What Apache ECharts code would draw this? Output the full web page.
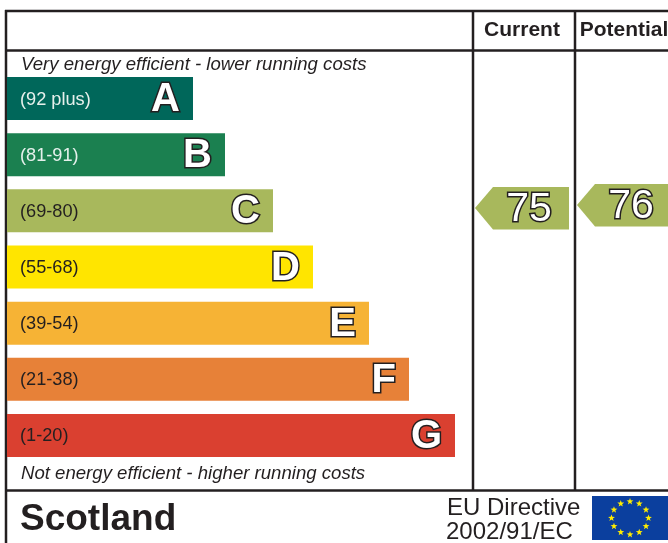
<!DOCTYPE html>
<html>
<head>
<meta charset="utf-8">
<style>html,body{margin:0;padding:0;background:#fff}#c{width:668px;height:543px}</style>
<script src="https://cdn.jsdelivr.net/npm/echarts@6/dist/echarts.min.js"></script>
</head>
<body>
<div id="c"></div>
<script>
const bands = ['A','B','C','D','E','F','G'];
const ranges = ['(92 plus)','(81-91)','(69-80)','(55-68)','(39-54)','(21-38)','(1-20)'];
const barLengths = [186,218,266,306,362,402,448];
const barColors = ['#00675a','#1b8050','#a8b85c','#ffe500','#f6b335','#e78138','#da4030'];
const rangeColors = ['#e6f0ec','#e6f0ec','#231f20','#231f20','#231f20','#231f20','#231f20'];
const columns = ['Current','Potential'];
const ratings = [75,76];
const arrowColor = '#a8b85c';
const ink = '#231f20';
const font = '"Liberation Sans", Arial, sans-serif';

function hline(y,x1,x2,w){return {type:'line',shape:{x1,y1:y,x2,y2:y},style:{stroke:ink,lineWidth:w}};}
function vline(x,y1,y2,w){return {type:'line',shape:{x1:x,y1,x2:x,y2},style:{stroke:ink,lineWidth:w}};}
function txt(x,y,text,size,extra){return {type:'text',x,y,style:Object.assign({text,fontFamily:font,fontSize:size,fill:ink,verticalAlign:'middle'},extra||{})};}
function star(cx,cy,r){const p=[];for(let i=0;i<10;i++){const a=-Math.PI/2+i*Math.PI/5,q=i%2?r*0.4:r;p.push([cx+q*Math.cos(a),cy+q*Math.sin(a)]);}
  return {type:'polygon',shape:{points:p},style:{fill:'#ffed00'}};}
const stars=[];for(let i=0;i<12;i++){const a=i*Math.PI/6;stars.push(star(630+18.5*Math.sin(a),518-16.5*Math.cos(a),3.6));}

const chart = echarts.init(document.getElementById('c'),null,{renderer:'canvas'});
chart.setOption({
  animation:false,
  grid:[
    {left:7,top:70.5,width:661,height:393,containLabel:false,outerBoundsMode:'none'},
    {left:471,top:49,width:204,height:441,containLabel:false,outerBoundsMode:'none'}
  ],
  xAxis:[
    {gridIndex:0,type:'value',min:0,max:661,show:false},
    {gridIndex:1,type:'category',data:columns,position:'top',
     axisLine:{show:false},axisTick:{show:false},
     axisLabel:{show:true,interval:0,margin:8,fontFamily:font,fontSize:21,fontWeight:'bold',color:ink,verticalAlign:'bottom',hideOverlap:false}}
  ],
  yAxis:[
    {gridIndex:0,type:'category',data:bands,inverse:true,show:false},
    {gridIndex:1,type:'value',min:-19,max:128,show:false}
  ],
  series:[
    {type:'bar',xAxisIndex:0,yAxisIndex:0,barWidth:43,barGap:'-100%',
     data:barLengths.map((v,i)=>({value:v,itemStyle:{color:barColors[i]},
       label:{color:rangeColors[i]}})),
     label:{show:true,position:'insideLeft',distance:13,offset:[0,1],fontFamily:font,fontSize:18.2,
       formatter:p=>ranges[p.dataIndex]}},
    {type:'bar',xAxisIndex:0,yAxisIndex:0,barWidth:43,barGap:'-100%',
     data:barLengths,itemStyle:{color:'transparent'},
     label:{show:true,position:'insideRight',distance:13,offset:[0,1.5],fontFamily:font,fontSize:40,fontWeight:'bold',
       color:'#fff',textBorderColor:ink,textBorderWidth:3,
       formatter:p=>bands[p.dataIndex]}},
    {type:'custom',xAxisIndex:1,yAxisIndex:1,
     data:ratings.map((v,i)=>[i,v]),
     encode:{x:0,y:1},
     renderItem:(params,api)=>{
       const c=api.coord([api.value(0),api.value(1)]);
       const x=c[0],y=c[1];
       return {type:'group',children:[
         {type:'polygon',shape:{points:[[x-47,y],[x-29,y-21],[x+47,y-21],[x+47,y+21.5],[x-29,y+21.5]]},style:{fill:arrowColor}},
         {type:'text',x:x+7,y:y+2,style:{text:String(api.value(1)),fontFamily:font,fontSize:41,fill:'#fff',
            stroke:ink,lineWidth:3,align:'center',verticalAlign:'middle'}}
       ]};
     }}
  ],
  graphic:{elements:[
    hline(11,5,668,2.5),hline(50.5,5,668,2.5),hline(490.5,5,668,2.5),
    vline(6,10,543,2.5),vline(473,10,490,2.5),vline(575,10,490,2.5),
    txt(21,65,'Very energy efficient - lower running costs',18.6,{fontStyle:'italic'}),
    txt(21,474,'Not energy efficient - higher running costs',18.6,{fontStyle:'italic'}),
    txt(20,519.5,'Scotland',37,{fontWeight:'bold'}),
    txt(447,508,'EU Directive',24),
    txt(446,532,'2002/91/EC',24),
    {type:'rect',shape:{x:592,y:496,width:76,height:44},style:{fill:'#0b3f9e'}},
    ...stars
  ]}
});
</script>
</body>
</html>
